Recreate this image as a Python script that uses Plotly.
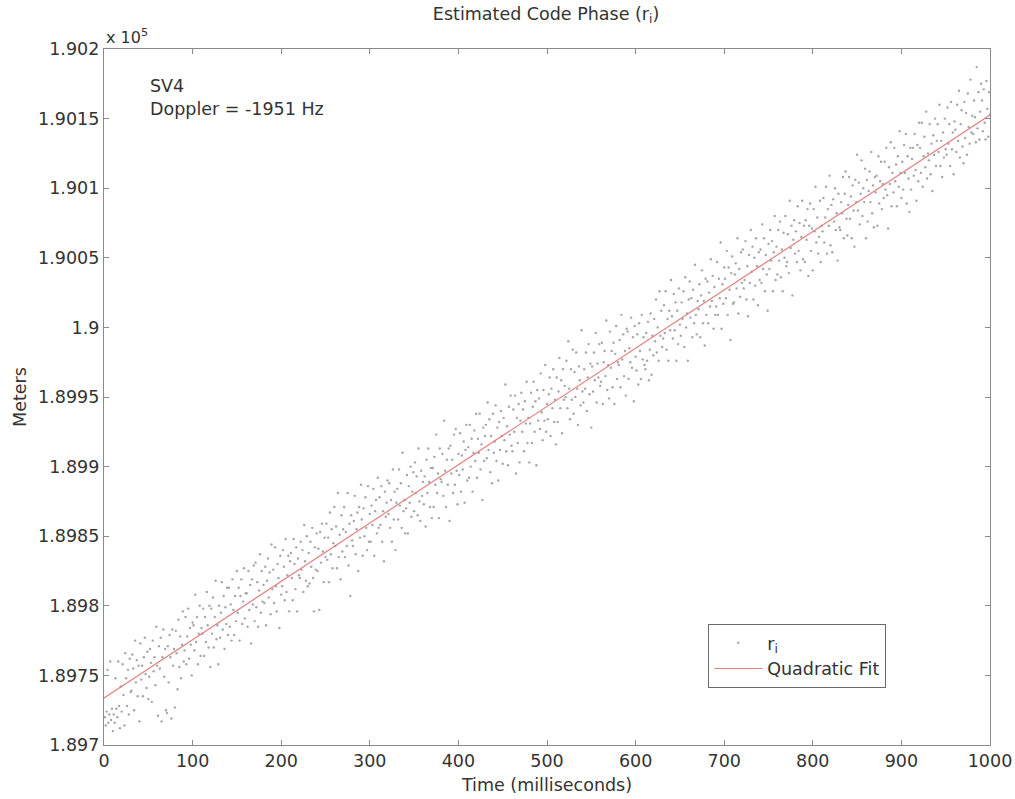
import plotly.graph_objects as go

# ---- data (meters), one estimate per millisecond ----
TIME_MS = list(range(1, 1001))

R_I = [
189720,189714,189724,189754,189716,189722,189760,189718,189726,189710,
189722,189716,189748,189726,189720,189760,189728,189712,189742,189724,
189758,189736,189714,189766,189748,189728,189754,189722,189762,189738,
189739,189765,189755,189725,189775,189745,189761,189735,189757,189717,
189773,189747,189757,189735,189763,189777,189751,189741,189767,189733,
189749,189769,189759,189731,189775,189753,189763,189743,189785,189757,
189721,189771,189755,189777,189717,189763,189783,189749,189769,189725,
189723,189771,189745,189779,189763,189719,189783,189757,189769,189727,
189782,189766,189740,189790,189756,189778,189748,189772,189796,189760,
189768,189792,189758,189778,189798,189762,189784,189772,189750,189788,
189786,189768,189808,189774,189792,189758,189780,189800,189764,189784,
189780,189798,189764,189792,189774,189810,189786,189770,189800,189756,
189798,189780,189806,189770,189792,189818,189776,189786,189758,189800,
189777,189795,189817,189783,189807,189769,189799,189787,189813,189779,
189813,189785,189801,189775,189819,189797,189779,189807,189789,189825,
189795,189813,189775,189807,189819,189787,189803,189827,189791,189809,
189809,189785,189825,189797,189815,189773,189819,189801,189829,189789,
189831,189799,189817,189785,189811,189837,189795,189825,189803,189815,
189802,189828,189786,189818,189834,189806,189824,189794,189844,189812,
189826,189802,189842,189814,189796,189830,189820,189784,189836,189808,
189814,189840,189828,189804,189848,189810,189822,189836,189796,189832,
189838,189820,189804,189848,189830,189812,189842,189796,189834,189822,
189820,189846,189826,189840,189810,189858,189832,189818,189850,189814,
189838,189816,189846,189828,189856,189820,189796,189842,189826,189852,
189825,189841,189797,189853,189831,189859,189839,189817,189849,189835,
189859,189833,189849,189817,189867,189837,189855,189827,189845,189871,
189843,189857,189827,189881,189835,189851,189819,189865,189839,189855,
189871,189835,189853,189843,189881,189829,189859,189807,189865,189847,
189843,189861,189879,189837,189855,189867,189825,189871,189849,189887,
189862,189836,189870,189850,189878,189856,189840,189886,189846,189866,
189846,189872,189858,189884,189836,189868,189876,189852,189892,189856,
189878,189858,189886,189846,189868,189832,189882,189864,189874,189890,
189866,189888,189856,189876,189846,189898,189862,189882,189840,189874,
189884,189862,189898,189872,189888,189856,189910,189868,189876,189852,
189870,189894,189852,189886,189874,189900,189864,189882,189896,189868,
189903,189881,189893,189865,189913,189875,189861,189897,189879,189889,
189873,189893,189857,189905,189881,189913,189889,189871,189899,189863,
189899,189871,189907,189887,189923,189881,189895,189863,189913,189891,
189889,189909,189879,189933,189897,189871,189905,189887,189913,189861,
189915,189895,189905,189881,189923,189887,189927,189897,189873,189909,
189894,189924,189882,189908,189898,189918,189874,189912,189930,189890,
189914,189892,189930,189900,189920,189882,189910,189926,189904,189938,
189892,189920,189910,189938,189898,189916,189876,189928,189904,189922,
189930,189906,189946,189912,189934,189896,189922,189888,189938,189910,
189918,189944,189904,189928,189890,189932,189912,189940,189922,189902,
189935,189919,189959,189911,189929,189901,189943,189923,189951,189915,
189911,189941,189925,189951,189895,189935,189917,189945,189903,189933,
189953,189925,189941,189911,189947,189931,189961,189917,189935,189903,
189931,189953,189917,189943,189961,189925,189947,189901,189955,189933,
189949,189927,189967,189939,189919,189955,189933,189973,189925,189945,
189934,189952,189964,189922,189956,189942,189970,189932,189948,189916,
189964,189932,189954,189978,189942,189962,189924,189970,189948,189958,
189950,189976,189942,189990,189956,189934,189970,189948,189984,189938,
189968,189950,189982,189956,189930,189972,189962,189944,189998,189954,
189946,189970,189956,189982,189940,189964,189988,189952,189974,189928,
189972,189954,189982,189962,189996,189946,189974,189964,189988,189958,
189961,189989,189945,189975,189983,189965,190005,189955,189973,189949,
189997,189971,189983,189957,189989,189945,189981,190001,189963,189975,
189973,189991,189957,190009,189977,189995,189965,189983,189951,189999,
189997,189963,189985,189975,190007,189971,189993,189947,190001,189979,
189969,189995,189959,190003,189983,189963,190009,189977,189993,189973,
189970,189996,189976,190004,189962,189984,190010,189966,189994,189980,
190006,189990,190020,189982,190000,189976,190026,189994,190012,189986,
189992,190016,189996,190026,189984,190006,189976,190012,189998,190034,
190008,189992,190024,189998,190018,189976,190012,189988,190028,190002,
189994,190018,190006,190026,189986,190036,190000,190010,189976,190020,
190033,190007,190021,189993,190027,190003,190045,190009,189995,190019,
190013,190031,189993,190023,190041,190003,190019,189987,190035,190009,
190033,190003,190025,190015,190049,190019,190037,189999,190029,190009,
190015,190047,190009,190035,190021,190061,189999,190031,190017,190043,
190035,190021,190055,190009,190043,190027,189991,190039,190051,190017,
190018,190038,190046,190028,190064,190010,190042,190022,190054,190032,
190056,190028,190034,190062,190020,190044,190008,190052,190032,190070,
190040,190058,190020,190050,190030,190064,190044,190016,190054,190034,
190056,190032,190074,190042,190064,190026,190052,190038,190012,190060,
190042,190070,190048,190062,190026,190054,190080,190034,190058,190038,
190070,190048,190076,190036,190056,190026,190068,190050,190080,190044,
190047,190067,190039,190091,190057,190073,190023,190063,190077,190053,
190069,190047,190087,190055,190075,190041,190065,190091,190049,190073,
190047,190077,190063,190085,190037,190073,190089,190055,190071,190041,
190085,190069,190101,190061,190079,190053,190065,190091,190047,190073,
190069,190093,190061,190079,190101,190053,190085,190073,190109,190059,
190088,190054,190092,190076,190100,190070,190082,190048,190096,190072,
190070,190090,190082,190108,190064,190096,190112,190078,190066,190088,
190108,190078,190094,190064,190102,190084,190058,190106,190090,190124,
190084,190104,190074,190096,190120,190080,190100,190090,190114,190064,
190106,190076,190098,190112,190090,190126,190082,190102,190072,190108,
190097,190109,190073,190123,190089,190105,190119,190085,190103,190093,
190119,190099,190129,190095,190071,190115,190103,190133,190087,190111,
190097,190129,190105,190117,190087,190123,190101,190141,190111,190093,
190119,190099,190131,190111,190139,190089,190123,190107,190083,190129,
190099,190121,190129,190109,190139,190113,190091,190131,190105,190147,
190129,190111,190147,190101,190123,190137,190115,190155,190107,190125,
190120,190146,190110,190132,190098,190138,190124,190150,190116,190134,
190146,190126,190160,190116,190134,190108,190140,190122,190150,190128,
190124,190158,190132,190146,190116,190162,190128,190140,190110,190148,
190142,190126,190160,190134,190170,190122,190146,190156,190130,190118,
190162,190136,190154,190124,190168,190144,190132,190178,190140,190152,
190139,190163,190151,190133,190187,190143,190169,190135,190155,190175,
190163,190141,190171,190147,190135,190177,190157,190137,190169,190153,
]

FIT_T = [0, 100, 200, 300, 400, 500, 600, 700, 800, 900, 1000]
FIT_Y = [189733.8, 189775.7, 189817.6, 189859.4, 189901.3, 189943.2,
         189985.1, 190027.0, 190068.8, 190110.7, 190152.6]

X_TICKS = [0, 100, 200, 300, 400, 500, 600, 700, 800, 900, 1000]
Y_TICKS = [189700, 189750, 189800, 189850, 189900, 189950,
           190000, 190050, 190100, 190150, 190200]
Y_TICK_TEXT = ["1.897", "1.8975", "1.898", "1.8985", "1.899", "1.8995",
               "1.9", "1.9005", "1.901", "1.9015", "1.902"]

FONT = "DejaVu Sans, Liberation Sans, Arial, sans-serif"
FS = 17.5
TXT = "#333333"
AX = "#8a8a8a"

fig = go.Figure()
fig.add_trace(go.Scatter(
    x=TIME_MS, y=R_I, mode="markers", name="r<sub>i</sub>",
    marker=dict(color="#a6a6a6", size=2.4, line=dict(width=0)),
))
fig.add_trace(go.Scatter(
    x=FIT_T, y=FIT_Y, mode="lines", name="Quadratic Fit",
    line=dict(color="#e38080", width=1.2),
))

fig.update_layout(
    width=1015, height=799,
    margin=dict(l=104, r=25, t=49, b=54, autoexpand=False),
    paper_bgcolor="white", plot_bgcolor="white",
    font=dict(family=FONT, size=FS, color=TXT),
    title=dict(text="Estimated Code Phase (r<sub>i</sub>)", x=0.538, xanchor="center",
               y=0.983, yanchor="middle", font=dict(size=FS, color=TXT)),
    showlegend=True,
    legend=dict(x=0.682, y=0.174, xanchor="left", yanchor="top",
                bgcolor="white", bordercolor="#6a6a6a", borderwidth=1,
                font=dict(size=FS, color=TXT), tracegroupgap=0,
                itemwidth=48),
    xaxis=dict(range=[0, 1000], tickvals=X_TICKS, ticks="inside", ticklen=5,
               tickcolor=AX, showline=True, linecolor=AX, linewidth=1.3,
               mirror="ticks", showgrid=False, zeroline=False, automargin=False,
               title=dict(text="Time (milliseconds)", standoff=8,
                          font=dict(size=FS, color=TXT)),
               tickfont=dict(size=FS, color=TXT)),
    yaxis=dict(range=[189700, 190200], tickvals=Y_TICKS, ticktext=Y_TICK_TEXT,
               ticks="inside", ticklen=5, tickcolor=AX, showline=True,
               linecolor=AX, linewidth=1.3, mirror="ticks", showgrid=False,
               zeroline=False, automargin=False,
               title=dict(text="Meters", standoff=6, font=dict(size=FS, color=TXT)),
               tickfont=dict(size=FS, color=TXT)),
    annotations=[
        dict(text="x 10<sup>5</sup>", xref="paper", yref="paper", x=0.0, y=1.0,
             xanchor="left", yanchor="bottom", showarrow=False, yshift=0,
             font=dict(size=16, color=TXT)),
        dict(text="SV4<br>Doppler = -1951 Hz", xref="x", yref="y", x=50, y=190165,
             xanchor="left", yanchor="middle", showarrow=False, align="left",
             font=dict(size=FS, color=TXT)),
    ],
)

fig.write_html("out.html")
